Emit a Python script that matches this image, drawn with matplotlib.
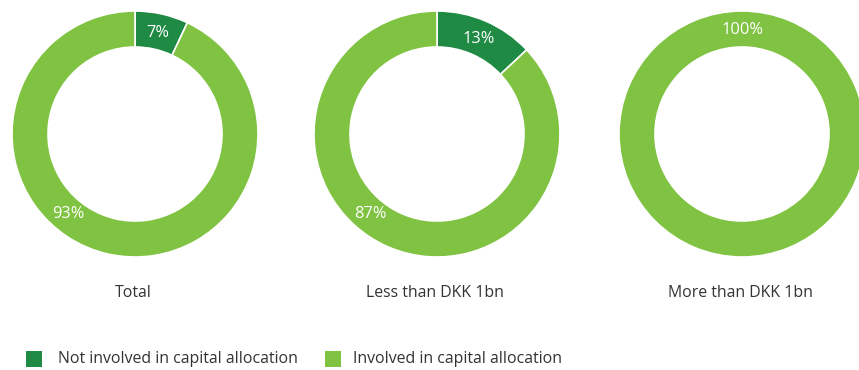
import matplotlib.pyplot as plt
import math

plt.rcParams["font.family"] = ["Open Sans", "DejaVu Sans"]

# share of companies per group
groups = ["Total", "Less than DKK 1bn", "More than DKK 1bn"]
not_involved = [7, 13, 0]
involved = [93, 87, 100]
series_names = ["Not involved in capital allocation", "Involved in capital allocation"]
colors = ["#1f8a43", "#80c342"]

W, H = 859, 370
fig = plt.figure(figsize=(W / 100, H / 100), dpi=100)
ax = fig.add_axes([0, 0, 1, 1])
ax.set_xlim(0, W)
ax.set_ylim(0, H)
ax.set_aspect("equal")
ax.axis("off")

centers_x = [135, 437, 742]
cy = H - 134
radius = 123
ring = 36
label_r = radius - ring / 2 - 1

for cx, name, a, b in zip(centers_x, groups, not_involved, involved):
    vals = [v for v in (a, b) if v > 0]
    cols = [c for v, c in zip((a, b), colors) if v > 0]
    ax.pie(vals, colors=cols, center=(cx, cy), radius=radius, startangle=90,
           counterclock=False,
           wedgeprops=dict(width=ring, edgecolor="white", linewidth=1.2))
    ax.set_xlim(0, W)
    ax.set_ylim(0, H)

    # percentage labels inside the ring
    if a > 0:
        ang = math.radians(a / 100 * 360 / 2)
        ax.text(cx + label_r * math.sin(ang), cy + label_r * math.cos(ang),
                f"{a}%", color="white", fontsize=11.8, ha="center", va="center")
        ang = math.radians(220)
        ax.text(cx + label_r * math.sin(ang), cy + label_r * math.cos(ang),
                f"{b}%", color="white", fontsize=11.8, ha="center", va="center")
    else:
        ax.text(cx, cy + label_r, f"{b}%", color="white", fontsize=11.8,
                ha="center", va="center")

    ax.text(cx - 2, H - 293, name, color="#333333", fontsize=11.4,
            ha="center", va="center")

# legend
for name, col, sx, tx in zip(series_names, colors, [26, 325], [58, 353]):
    ax.add_patch(plt.Rectangle((sx, H - 367), 16, 16, color=col, lw=0))
    ax.text(tx, H - 359, name, color="#333333", fontsize=11.4,
            ha="left", va="center")

fig.savefig("out.png", dpi=100)
